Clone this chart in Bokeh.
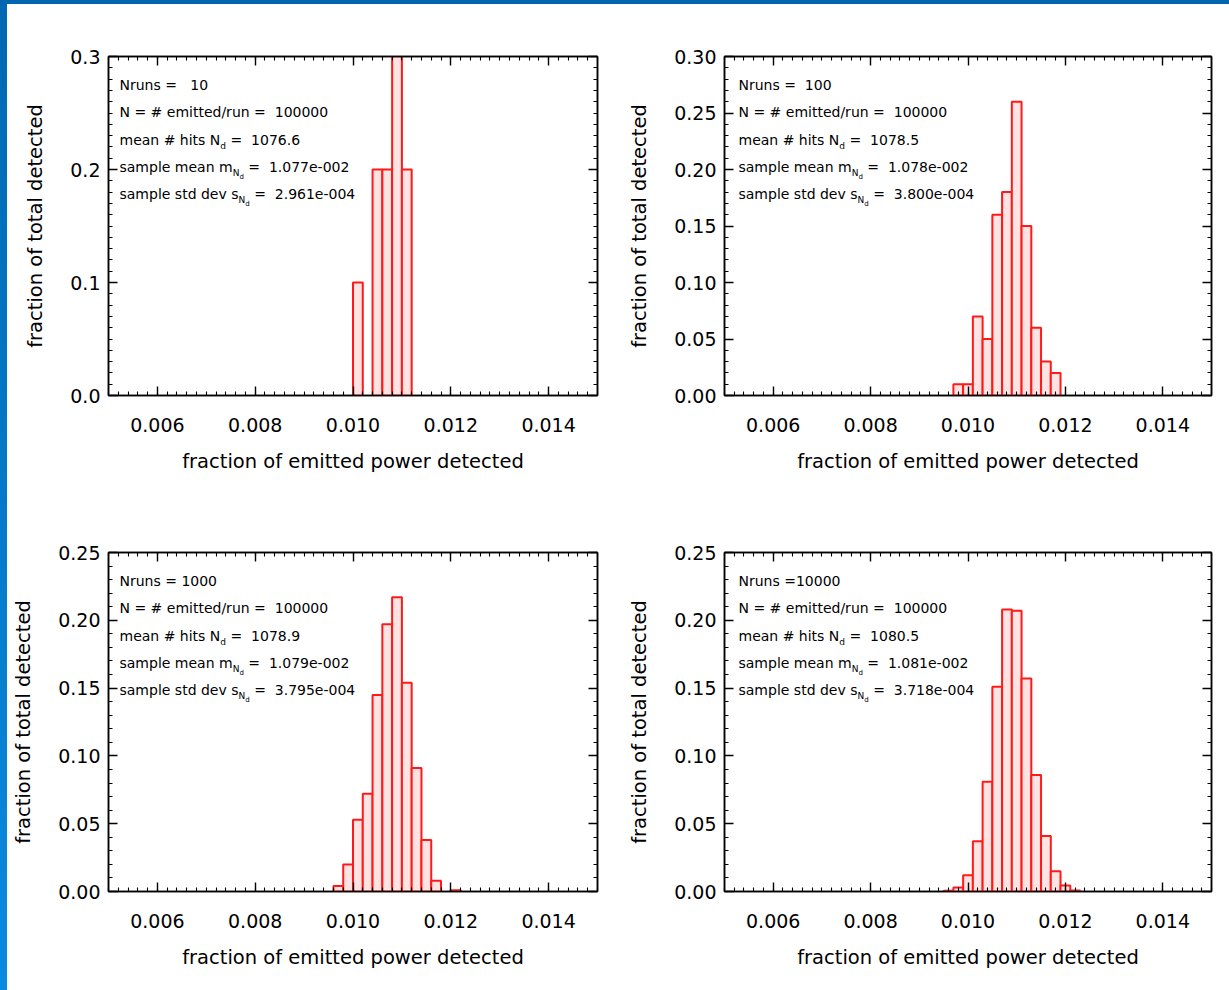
import re
import numpy as np
from bokeh.plotting import figure
from bokeh.models import (Range1d, FixedTicker, LinearAxis, Label,
                          PrintfTickFormatter, CustomJSTickFormatter, Div)
from bokeh.layouts import row, column
from bokeh.embed import file_html
from bokeh.resources import INLINE

# ---------------- data ----------------
x_ticks = [0.006, 0.008, 0.010, 0.012, 0.014]
bin_width = 0.0002
n_emitted = 100000

p1_nruns = 10
p1_bins = [0.0100, 0.0102, 0.0104, 0.0106, 0.0108, 0.0110]
p1_frac = [0.1, 0.0, 0.2, 0.2, 0.3, 0.2]
p1_stats = ["1076.6", "1.077e-002", "2.961e-004"]

p2_nruns = 100
p2_bins = [0.0097, 0.0099, 0.0101, 0.0103, 0.0105, 0.0107, 0.0109,
           0.0111, 0.0113, 0.0115, 0.0117]
p2_frac = [0.01, 0.01, 0.07, 0.05, 0.16, 0.18, 0.26, 0.15, 0.06, 0.03, 0.02]
p2_stats = ["1078.5", "1.078e-002", "3.800e-004"]

p3_nruns = 1000
p3_bins = [0.0096, 0.0098, 0.0100, 0.0102, 0.0104, 0.0106, 0.0108,
           0.0110, 0.0112, 0.0114, 0.0116, 0.0118, 0.0120]
p3_frac = [0.004, 0.020, 0.053, 0.072, 0.145, 0.197, 0.217, 0.154,
           0.091, 0.038, 0.008, 0.0, 0.001]
p3_stats = ["1078.9", "1.079e-002", "3.795e-004"]

p4_nruns = 10000
p4_bins = [0.0095, 0.0097, 0.0099, 0.0101, 0.0103, 0.0105, 0.0107,
           0.0109, 0.0111, 0.0113, 0.0115, 0.0117, 0.0119, 0.0121]
p4_frac = [0.0005, 0.003, 0.012, 0.037, 0.081, 0.151, 0.208, 0.207,
           0.157, 0.086, 0.041, 0.015, 0.0045, 0.0007]
p4_stats = ["1080.5", "1.081e-002", "3.718e-004"]

y_ticks_a = [0.0, 0.1, 0.2, 0.3]
y_ticks_b = [0.00, 0.05, 0.10, 0.15, 0.20, 0.25, 0.30]
y_ticks_c = [0.00, 0.05, 0.10, 0.15, 0.20, 0.25]

x_title = "fraction of emitted power detected"
y_title = "fraction of total detected"

# ---------------- style ----------------
FONT = "DejaVu Sans"
W = {' ': 318, '#': 838, 'N': 748, 'a': 613, 'd': 635, 'e': 615, 'h': 634,
     'i': 278, 'l': 278, 'm': 974, 'n': 634, 'p': 635, 's': 521, 't': 392,
     'v': 592, '=': 838, '.': 318, '-': 361, '/': 337, 'r': 411, 'u': 634,
     'o': 612, 'c': 550, 'f': 352, 'w': 818, 'R': 695}
for dgt in "0123456789":
    W[dgt] = 636


def tw(s, size):
    return sum(W.get(ch, 600) for ch in s) * size / 1000.0


XMIN, XMAX = 0.005, 0.015
x_minor = list(np.round(np.arange(XMIN, XMAX + 1e-9, 0.0002), 6))
SIZES = {0: 14, 1: 9, 2: 7}
DROP = {0: 0, 1: 6, 2: 10}
LINE_OFFS = [28, 55, 83, 110, 137]
BLANK = CustomJSTickFormatter(code="return ''")


def style_axis(ax, ticks, minor, fmt, labels=True):
    ax.ticker = FixedTicker(ticks=ticks, minor_ticks=minor)
    ax.axis_line_color = "black"
    ax.axis_line_width = 1.5
    ax.major_tick_in = 9
    ax.major_tick_out = 0
    ax.minor_tick_in = 4
    ax.minor_tick_out = 0
    ax.major_tick_line_color = "black"
    ax.minor_tick_line_color = "black"
    ax.major_tick_line_width = 1.4
    ax.minor_tick_line_width = 1.1
    ax.major_label_text_font = FONT
    ax.major_label_text_color = "black"
    ax.major_label_text_font_size = "19px"
    if labels:
        ax.formatter = PrintfTickFormatter(format=fmt)
    else:
        ax.formatter = BLANK
        ax.major_label_standoff = 0
    ax.axis_label_text_font = FONT
    ax.axis_label_text_font_size = "19.5px"
    ax.axis_label_text_font_style = "normal"
    ax.axis_label_text_color = "black"


def panel(width, height, bl, bt, br, bb, ymax, yticks, yfmt,
          bins, frac, nruns, stats, text_dx):
    p = figure(width=width, height=height,
               x_range=Range1d(XMIN, XMAX), y_range=Range1d(0, ymax),
               output_backend="svg", toolbar_location=None,
               min_border_left=bl, min_border_right=br,
               min_border_top=bt, min_border_bottom=bb,
               x_axis_label=x_title, y_axis_label=y_title)
    p.xgrid.visible = False
    p.ygrid.visible = False
    p.outline_line_color = "black"
    p.outline_line_width = 1.5
    p.background_fill_color = "white"
    p.border_fill_color = "white"

    y_minor = list(np.round(np.arange(0, ymax + 1e-9, 0.01), 4))
    style_axis(p.xaxis[0], x_ticks, x_minor, "%.3f")
    p.xaxis[0].major_label_standoff = 22
    p.xaxis[0].axis_label_standoff = 15
    style_axis(p.yaxis[0], yticks, y_minor, yfmt)
    p.yaxis[0].major_label_standoff = 8
    p.yaxis[0].axis_label_standoff = 20

    top_ax = LinearAxis()
    style_axis(top_ax, x_ticks, x_minor, "%.3f", labels=False)
    p.add_layout(top_ax, "above")
    right_ax = LinearAxis()
    style_axis(right_ax, yticks, y_minor, yfmt, labels=False)
    p.add_layout(right_ax, "right")

    left = [b for b, f in zip(bins, frac) if f > 0]
    top = [f for f in frac if f > 0]
    right = [b + bin_width for b in left]
    p.quad(left=left, right=right, bottom=0, top=top,
           fill_color="#ffe3e3", line_color="#ff1a1a", line_width=2)

    # annotation text
    fw = width - bl - br
    fh = height - bt - bb
    xpx = (XMAX - XMIN) / fw
    ypx = ymax / fh
    lines = [
        [("Nruns =" + f"{nruns:5d}", 0)],
        [("N = # emitted/run = " + f"{n_emitted:7d}", 0)],
        [("mean # hits N", 0), ("d", 1), (" =  " + stats[0], 0)],
        [("sample mean m", 0), ("N", 1), ("d", 2), (" =  " + stats[1], 0)],
        [("sample std dev s", 0), ("N", 1), ("d", 2), (" =  " + stats[2], 0)],
    ]
    for off, segs in zip(LINE_OFFS, lines):
        xcur = text_dx
        for txt, lvl in segs:
            size = SIZES[lvl]
            for m in re.finditer(r"\S+(?: \S+)*", txt):
                xs = xcur + tw(txt[:m.start()], size)
                p.add_layout(Label(
                    x=XMIN + xs * xpx, y=ymax - (off + DROP[lvl]) * ypx,
                    text=m.group(0), text_font=FONT,
                    text_font_size=f"{size}px", text_color="black",
                    text_baseline="middle", text_align="left"))
            xcur += tw(txt, size)
    return p


p1 = panel(608, 491, 101, 52, 18, 100, 0.3, y_ticks_a, "%.1f",
           p1_bins, p1_frac, p1_nruns, p1_stats, 11)
p2 = panel(614, 491, 109, 52, 18, 100, 0.3, y_ticks_b, "%.2f",
           p2_bins, p2_frac, p2_nruns, p2_stats, 14)
p3 = panel(608, 495, 101, 57, 18, 99, 0.25, y_ticks_c, "%.2f",
           p3_bins, p3_frac, p3_nruns, p3_stats, 11)
p4 = panel(614, 495, 109, 57, 18, 99, 0.25, y_ticks_c, "%.2f",
           p4_bins, p4_frac, p4_nruns, p4_stats, 14)

top_strip = Div(text="", width=1229, height=4, margin=0,
                styles={"background-color": "#0066b0"})
left_strip = Div(text="", width=7, height=986, margin=0,
                 styles={"background": "linear-gradient(#0068b2, #0a8ae0)"})

layout = column(top_strip,
                row(left_strip, column(row(p1, p2), row(p3, p4))))

open("out.html", "w").write(file_html(layout, INLINE))
